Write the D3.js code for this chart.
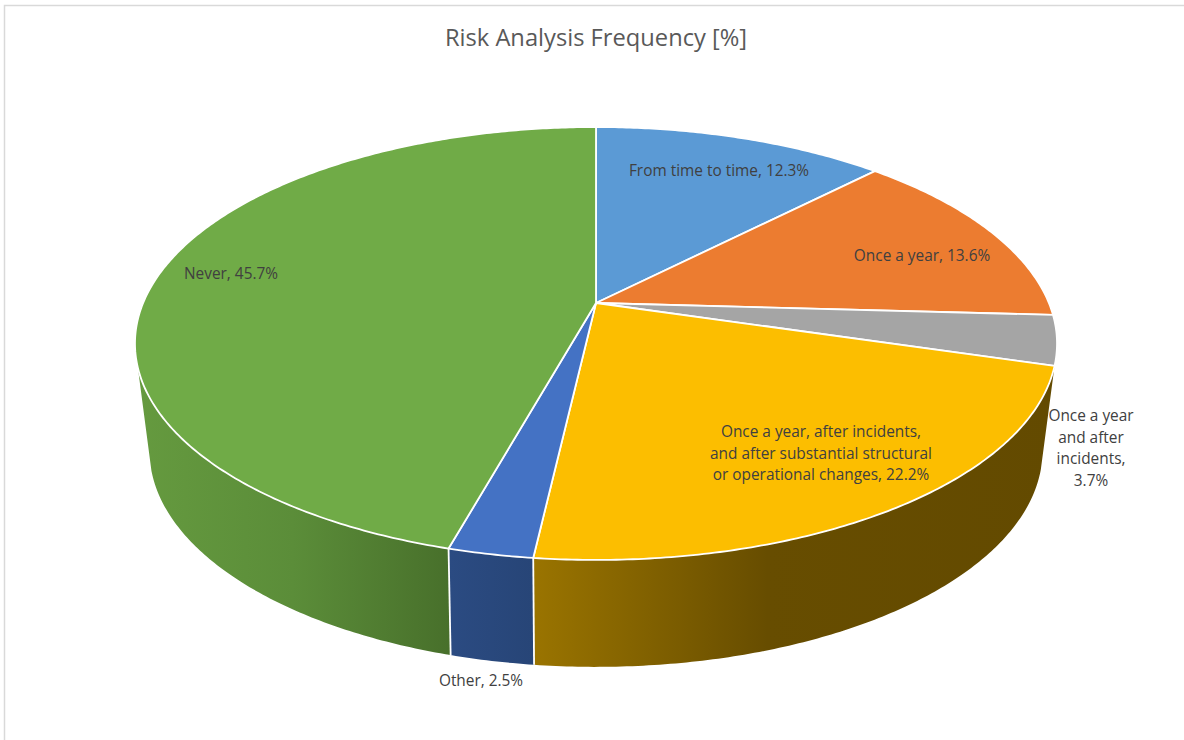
<!DOCTYPE html>
<html>
<head>
<meta charset="utf-8">
<title>Risk Analysis Frequency</title>
<script src="https://cdn.jsdelivr.net/npm/d3@7/dist/d3.min.js"></script>
<style>
  html, body { margin: 0; padding: 0; background: #fff; }
  svg { display: block; }
  text { font-family: "Open Sans", "Noto Sans", sans-serif; }
</style>
</head>
<body>
<svg id="chart" width="1184" height="740"></svg>
<script>
const chartTitle = "Risk Analysis Frequency [%]";
const categories = [
  "From time to time",
  "Once a year",
  "Once a year and after incidents",
  "Once a year, after incidents, and after substantial structural or operational changes",
  "Other",
  "Never"
];
const shares = [12.3, 13.6, 3.7, 22.2, 2.5, 45.7];
const topColors = ["#5B9AD5", "#EC7C30", "#A5A5A5", "#FCBE00", "#4472C4", "#70AB47"];

// Wall shading for the slices that face the viewer, keyed by slice index.
const wallShades = new Map([
  [3, [["0%", "#9a7400"], ["45%", "#674d00"], ["100%", "#634a00"]]],
  [4, [["0%", "#2b4b82"], ["100%", "#274577"]]],
  [5, [["0%", "#659a3f"], ["50%", "#5b8d39"], ["100%", "#48702b"]]]
]);

// Line-broken label text; the closing value comes from `shares`.
const labelLines = [
  ["From time to time,"],
  ["Once a year,"],
  ["Once a year", "and after", "incidents,"],
  ["Once a year, after incidents,", "and after substantial structural", "or operational changes,"],
  ["Other,"],
  ["Never,"]
];
const labelOnOwnLine = [false, false, true, false, false, false];
const labelAnchors = [
  [719, 176], [922, 261], [1091, 421], [821, 437], [481, 686], [231, 279]
];

const svg = d3.select("#chart");

// Perspective projection of the unit disc (x right, y towards the viewer).
function plane(cy, bx, ay, p) {
  return ([x, y]) => {
    const d = 1 - p * y;
    return [596 + bx * x / d, cy + ay * y / d];
  };
}
const topPlane = plane(303, 452.9, 208.9, 0.187);
const bottomPlane = plane(406.5, 437, 207, 0.205);
const disc = a => [Math.sin(a), -Math.cos(a)];

const slices = d3.pie().sort(null).value(d => d)(shares);
const line = d3.line();

function rim(project, a0, a1) {
  const n = Math.max(2, Math.ceil((a1 - a0) / 0.01));
  return d3.range(n + 1).map(i => project(disc(a0 + (a1 - a0) * i / n)));
}

// The left-hand silhouette: the wall turns away from the viewer past this angle.
const wallLimit = 253 * Math.PI / 180;

const defs = svg.append("defs");
wallShades.forEach((stops, i) => {
  const s = slices[i];
  const end = Math.min(s.endAngle, wallLimit);
  const xs = rim(topPlane, s.startAngle, end).map(p => p[0]);
  const g = defs.append("linearGradient")
    .attr("id", "wall" + i)
    .attr("gradientUnits", "userSpaceOnUse")
    .attr("x1", d3.min(xs))
    .attr("x2", d3.max(xs))
    .attr("y1", 0).attr("y2", 0);
  stops.forEach(([o, c]) => g.append("stop").attr("offset", o).attr("stop-color", c));
});

// Outer frame of the chart area
svg.append("rect")
  .attr("x", 4.5).attr("y", 5.5)
  .attr("width", 1300).attr("height", 900)
  .attr("fill", "none").attr("stroke", "#d9d9d9").attr("stroke-width", 1.5);

// Walls, drawn first so the top face covers their upper overlap
svg.append("g").selectAll("path")
  .data([...wallShades.keys()])
  .join("path")
  .attr("d", i => {
    const s = slices[i];
    const end = Math.min(s.endAngle, wallLimit);
    const upper = rim(topPlane, s.startAngle, end);
    const lower = rim(bottomPlane, s.startAngle, end).reverse();
    return line(upper.concat(lower)) + "Z";
  })
  .attr("fill", i => `url(#wall${i})`);

// White seams between neighbouring walls
svg.append("g").selectAll("line")
  .data([slices[3].endAngle, slices[4].endAngle])
  .join("line")
  .each(function (a) {
    const t = topPlane(disc(a)), b = bottomPlane(disc(a));
    d3.select(this).attr("x1", t[0]).attr("y1", t[1]).attr("x2", b[0]).attr("y2", b[1]);
  })
  .attr("stroke", "#fff").attr("stroke-width", 1.8);

// Top face
svg.append("g").selectAll("path")
  .data(slices)
  .join("path")
  .attr("d", s => line([topPlane([0, 0])].concat(rim(topPlane, s.startAngle, s.endAngle))) + "Z")
  .attr("fill", (s, i) => topColors[i])
  .attr("stroke", "#fff")
  .attr("stroke-width", 1.8)
  .attr("stroke-linejoin", "round");

// Title
svg.append("text")
  .attr("x", 596).attr("y", 46)
  .attr("text-anchor", "middle")
  .attr("font-size", 23.7)
  .attr("fill", "#595959")
  .text(chartTitle);

// Data labels
const lineStep = 21.5;
const labels = svg.append("g").selectAll("text")
  .data(categories)
  .join("text")
  .attr("text-anchor", "middle")
  .attr("font-size", 15.4)
  .attr("fill", "#404040")
  .attr("transform", (c, i) => `translate(${labelAnchors[i]})`);
labels.each(function (c, i) {
  const lines = labelLines[i].slice();
  const value = shares[i].toFixed(1) + "%";
  if (labelOnOwnLine[i]) lines.push(value);
  else lines[lines.length - 1] += " " + value;
  d3.select(this).selectAll("tspan")
    .data(lines)
    .join("tspan")
    .attr("x", 0)
    .attr("y", (l, k) => k * lineStep)
    .text(l => l);
});
</script>
</body>
</html>
